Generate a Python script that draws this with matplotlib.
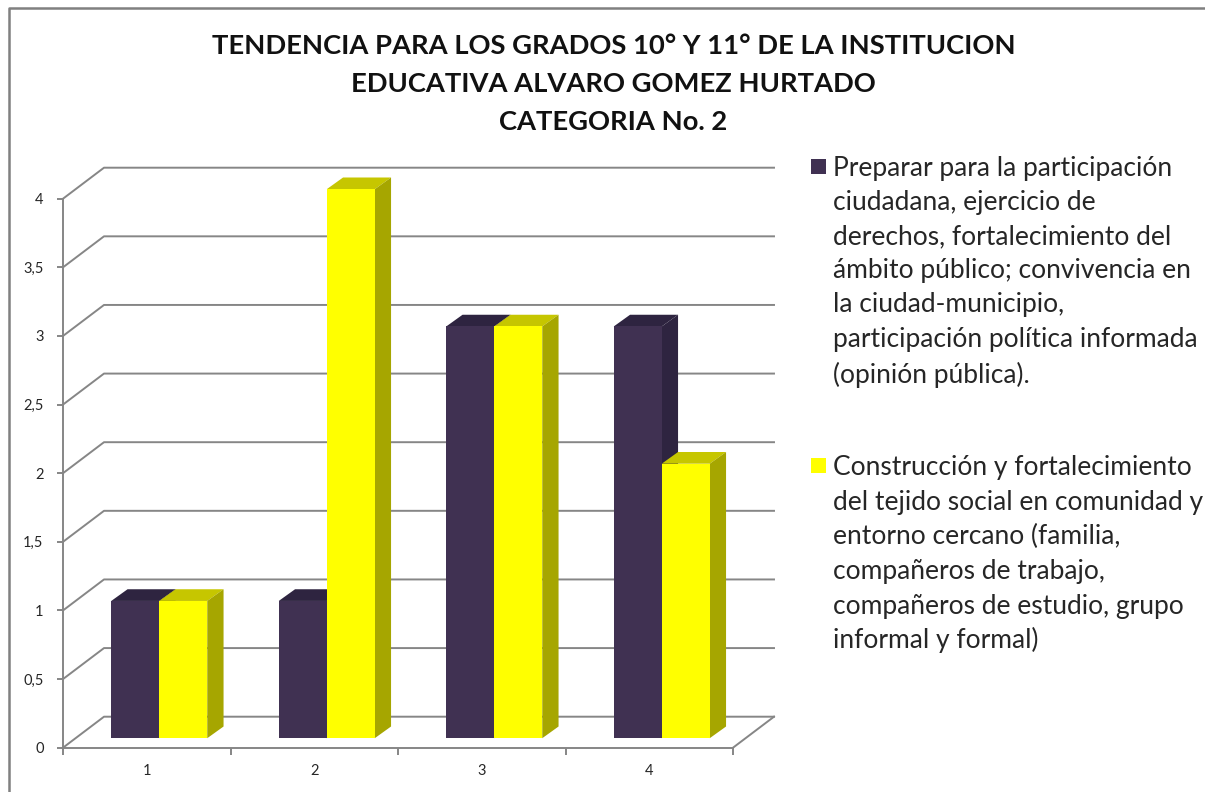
import matplotlib
matplotlib.use("Agg")
import matplotlib.pyplot as plt
from matplotlib.patches import Polygon, Rectangle

categories = [1, 2, 3, 4]
series_a = [1, 1, 3, 3]
series_b = [1, 4, 3, 2]
y_ticks = [0, 0.5, 1, 1.5, 2, 2.5, 3, 3.5, 4]
y_labels = ["0", "0,5", "1", "1,5", "2", "2,5", "3", "3,5", "4"]
title_lines = ["TENDENCIA PARA LOS GRADOS 10° Y 11° DE LA INSTITUCION",
               "EDUCATIVA ALVARO GOMEZ HURTADO",
               "CATEGORIA No. 2"]
legend_a = ["Preparar para la participación", "ciudadana, ejercicio de",
            "derechos, fortalecimiento del", "ámbito público; convivencia en",
            "la ciudad-municipio,", "participación política informada",
            "(opinión pública)."]
legend_b = ["Construcción y fortalecimiento", "del tejido social en comunidad y",
            "entorno cercano (familia,", "compañeros de trabajo,",
            "compañeros de estudio, grupo", "informal y formal)"]

W, H = 1205, 792
FONT = "Lato"
GRID = "#868686"
TXT = "#262626"
fig = plt.figure(figsize=(W / 100, H / 100), dpi=100, facecolor="white")
L, R, B, T = 63, 733, 747.7, 198.7
ax = fig.add_axes([L / W, 1 - B / H, (R - L) / W, (B - T) / H])
ax.set_xlim(0.5, 4.5)
ax.set_ylim(0, 4)
ax.patch.set_visible(False)

unit_x = (R - L) / 4
unit_y = (B - T) / 4
wall_dx, wall_dy = 41 / unit_x, 31 / unit_y
bar_dx, bar_dy = 12.5 / unit_x, 9.5 / unit_y
depth_dx, depth_dy = 16.3 / unit_x, 11.7 / unit_y
bw = 48 / unit_x

for v in y_ticks:
    ax.plot([0.5, 0.5 + wall_dx, 4.5 + wall_dx], [v, v + wall_dy, v + wall_dy],
            color=GRID, lw=1.4, clip_on=False, zorder=1)
ax.plot([4.5, 4.5 + wall_dx], [0, wall_dy], color=GRID, lw=1.4, clip_on=False, zorder=1)


def draw_bars(offset, values, front, top, side):
    xs = [c + offset + bar_dx for c in categories]
    ax.bar(xs, values, width=bw, bottom=bar_dy, color=front, zorder=3, clip_on=False)
    for x, v in zip(xs, values):
        l, r = x - bw / 2, x + bw / 2
        y0, y1 = bar_dy, bar_dy + v
        ax.add_patch(Polygon([(l, y1), (r, y1), (r + depth_dx, y1 + depth_dy),
                              (l + depth_dx, y1 + depth_dy)],
                             fc=top, ec="none", zorder=2.5, clip_on=False))
        ax.add_patch(Polygon([(r, y0), (r, y1), (r + depth_dx, y1 + depth_dy),
                              (r + depth_dx, y0 + depth_dy)],
                             fc=side, ec="none", zorder=2.5, clip_on=False))


draw_bars(-bw / 2, series_a, "#403152", "#2E2440", "#2E2440")
draw_bars(bw / 2, series_b, "#FFFF00", "#C6C600", "#A6A600")

for s in ["top", "right"]:
    ax.spines[s].set_visible(False)
for s in ["left", "bottom"]:
    ax.spines[s].set_color(GRID)
    ax.spines[s].set_linewidth(1.4)
    ax.spines[s].set_zorder(4)
ax.set_yticks(y_ticks, y_labels, fontfamily=FONT, fontsize=10.5, color=TXT)
ax.set_xticks([0.5, 1.5, 2.5, 3.5, 4.5], [""] * 5)
ax.tick_params(axis="y", length=4, width=1.4, color=GRID, pad=10)
ax.tick_params(axis="x", length=5, width=1.4, color=GRID)
for c in categories:
    ax.annotate(str(c), (c, 0), xytext=(0, -23 * 0.72), textcoords="offset points",
                ha="center", va="center", fontfamily=FONT, fontsize=10.5, color=TXT,
                annotation_clip=False)

# chart frame
fig.add_artist(plt.Line2D([9 / W, 9 / W, 1], [0, 1 - 8 / H, 1 - 8 / H],
                          transform=fig.transFigure, color="#808080", lw=1.8))

for line, py in zip(title_lines, [46, 84, 122]):
    fig.text(613.5 / W, 1 - py / H, line, ha="center", va="center",
             fontfamily=FONT, fontweight="bold", fontsize=19.7, color="#111111")

for lines, ys, col, my in [
    (legend_a, [168.5, 202.5, 236.5, 270.5, 304.5, 339.5, 374.5], "#403152", 159),
    (legend_b, [467.5, 502.5, 536.5, 571.5, 606.5, 639.5], "#FFFF00", 458),
]:
    fig.add_artist(Rectangle((810.5 / W, 1 - (my + 15) / H), 15.5 / W, 15 / H,
                             transform=fig.transFigure, fc=col, ec="none"))
    for line, py in zip(lines, ys):
        fig.text(833 / W, 1 - py / H, line, ha="left", va="center",
                 fontfamily=FONT, fontsize=19, color=TXT)

fig.savefig("out.png", dpi=100)
